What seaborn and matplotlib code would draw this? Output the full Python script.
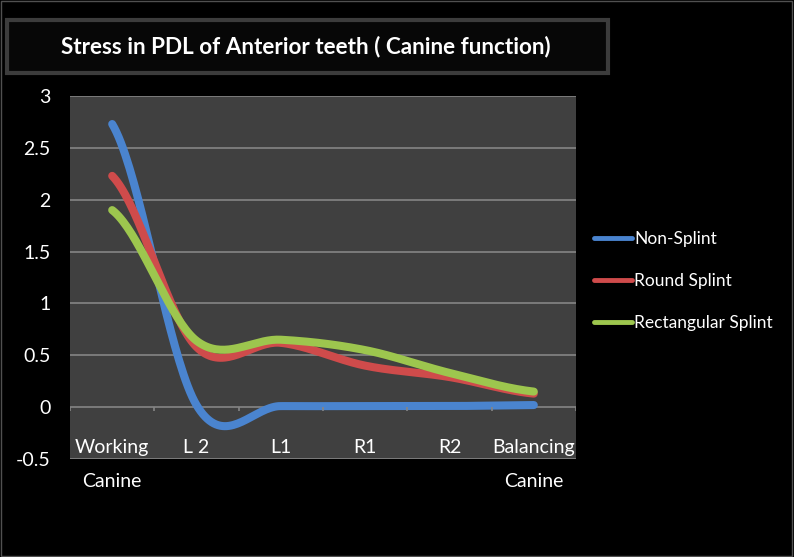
import numpy as np
import pandas as pd
import matplotlib
matplotlib.use('Agg')
import matplotlib.pyplot as plt
import seaborn as sns
from matplotlib.patches import Rectangle
from matplotlib.lines import Line2D

# data
teeth = ['Working\nCanine', 'L 2', 'L1', 'R1', 'R2', 'Balancing\nCanine']
non_splint = [2.73, 0.02, 0.01, 0.01, 0.01, 0.02]
round_splint = [2.23, 0.58, 0.62, 0.40, 0.29, 0.13]
rect_splint = [1.90, 0.64, 0.65, 0.55, 0.33, 0.15]
series_names = ['Non-Splint', 'Round Splint', 'Rectangular Splint']
colors = ['#4a84cf', '#cf4b4b', '#9dc64e']
y_ticks = [-0.5, 0, 0.5, 1, 1.5, 2, 2.5, 3]


def excel_smooth(vals, n=40):
    # bezier smoothing like excel's "smoothed line"
    xs, ys = [], []
    m = len(vals)
    for i in range(m - 1):
        p0 = vals[i - 1] if i > 0 else vals[i]
        p1 = vals[i]
        p2 = vals[i + 1]
        p3 = vals[i + 2] if i + 2 < m else vals[i + 1]
        c1 = p1 + (p2 - p0) / 6
        c2 = p2 - (p3 - p1) / 6
        t = np.linspace(0, 1, n)
        y = (1 - t)**3 * p1 + 3 * (1 - t)**2 * t * c1 + 3 * (1 - t) * t**2 * c2 + t**3 * p2
        xs.extend(i + t)
        ys.extend(y)
    return xs, ys


frames = []
for name, vals in zip(series_names, [non_splint, round_splint, rect_splint]):
    xs, ys = excel_smooth(vals)
    frames.append(pd.DataFrame({'x': xs, 'y': ys, 'series': name}))
df = pd.concat(frames, ignore_index=True)

sns.set_style('dark')
plt.rcParams['font.family'] = ['Lato', 'DejaVu Sans']

fig = plt.figure(figsize=(7.94, 5.57), dpi=100, facecolor='black')
ax = fig.add_axes([0.0882, 0.176, 0.6372, 0.6516])
ax.set_facecolor('#404040')

sns.lineplot(data=df, x='x', y='y', hue='series', palette=colors, ax=ax,
             linewidth=5.8, legend=False, solid_capstyle='round', sort=False,
             estimator=None)

ax.set_xlim(-0.5, 5.5)
ax.set_ylim(-0.5, 3)
ax.set_yticks(y_ticks)
ax.set_yticklabels([('%g' % v) for v in y_ticks], color='white', fontsize=14)
ax.set_xticks([])
ax.set_xlabel('')
ax.set_ylabel('')
ax.grid(axis='y', color='#858585', linewidth=1.2)
ax.grid(axis='x', visible=False)
ax.tick_params(axis='y', length=7, color='#858585', direction='out', width=1.2, pad=7)
for s in ax.spines.values():
    s.set_visible(False)

# category tick marks on the zero line
ax.vlines(np.arange(7) - 0.5, -0.035, 0, color='#858585', linewidth=1.2)

# category labels, second line sits below the plot area
for i, lab in enumerate(teeth):
    lines = lab.split('\n')
    ax.text(i, -0.385, lines[0], color='white', fontsize=14, ha='center', va='center',
            clip_on=False)
    if len(lines) > 1:
        ax.text(i, -0.715, lines[1], color='white', fontsize=14, ha='center', va='center',
                clip_on=False)

handles = [Line2D([0], [0], color=c, linewidth=3.5) for c in colors]
leg = fig.legend(handles, series_names, loc='center left', bbox_to_anchor=(0.728, 0.496),
                 frameon=False, fontsize=12.5, handlelength=2.2, labelspacing=1.5,
                 handletextpad=0.15)
for t in leg.get_texts():
    t.set_color('white')

# title band
fig.patches.append(Rectangle((7 / 794, 1 - 73 / 557), 601 / 794, 53 / 557,
                             transform=fig.transFigure, facecolor='#070707',
                             edgecolor='#3c3c3c', linewidth=3))
fig.text(306 / 794, 1 - 47 / 557, 'Stress in PDL of Anterior teeth ( Canine function)',
         color='white', fontsize=16.2, fontweight='bold', ha='center', va='center')

# thin frame round the picture
fig.patches.append(Rectangle((0.001, 0.002), 0.997, 0.996, transform=fig.transFigure,
                             fill=False, edgecolor='#505050', linewidth=1))

fig.savefig('out.png', dpi=100, facecolor='black')
